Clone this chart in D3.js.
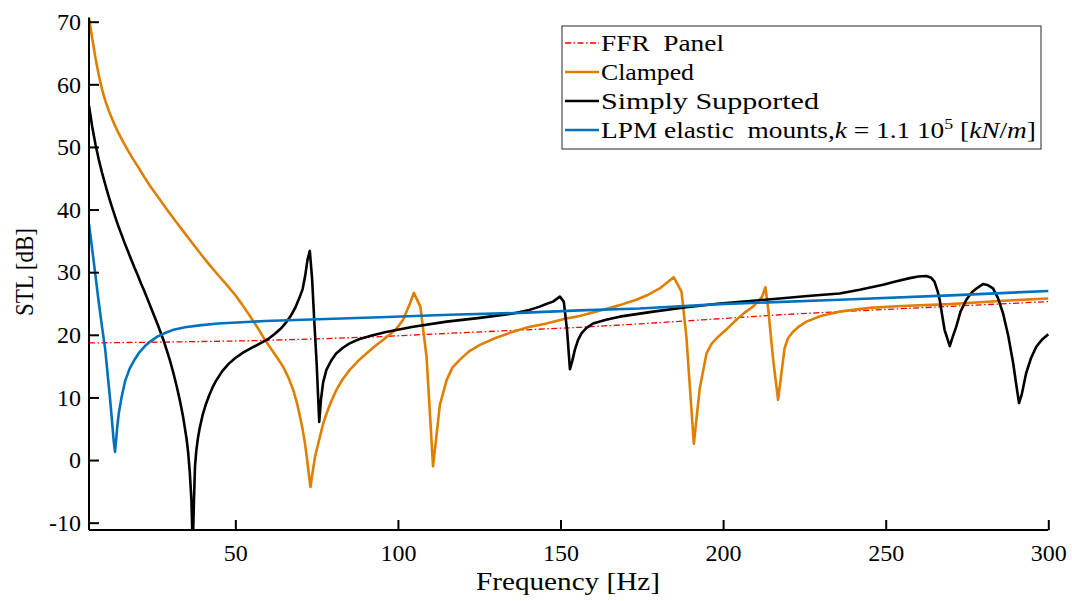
<!DOCTYPE html>
<html>
<head>
<meta charset="utf-8">
<script src="https://cdn.jsdelivr.net/npm/d3@7/dist/d3.min.js"></script>
<style>
  html, body { margin: 0; padding: 0; background: #fff; }
  svg { display: block; }
  text { font-family: "Liberation Serif", "DejaVu Serif", serif; fill: #000; }
</style>
</head>
<body>
<svg id="chart" width="1072" height="601"></svg>
<script>
// ---------- data ----------
const xTicks = [50, 100, 150, 200, 250, 300];
const yTicks = [-10, 0, 10, 20, 30, 40, 50, 60, 70];

const ffrFreq = [5, 30, 54.5, 75, 94.4, 116, 137.5, 156, 174.3, 200, 217.4, 236, 260, 280, 300];
const ffrSTL  = [18.7, 18.85, 19.05, 19.35, 19.7, 20.25, 20.75, 21.2, 21.75, 22.6, 23.2, 23.7, 24.3, 24.8, 25.3];

const clampedFreq = [5, 6, 7, 8, 9, 10, 11, 12, 13, 14, 15.5, 17, 18.5, 20, 22, 24, 26.5, 29.4, 32, 34.5, 37, 39.6, 42, 44.7, 47.3, 49.9,
  52, 54.5, 57, 59.1, 60.8, 62.8, 64.7, 66.3, 67.8, 69, 69.9, 70.7, 71.4, 72.1, 72.7, 73.1,
  73.6, 74.5, 75.3, 76, 77, 78.1, 79.5, 81.1, 83, 85.2, 87.7, 90.4, 93, 95.5, 97.6, 99.6, 101.6, 103.7, 104.9, 106.9, 108.8, 110.8,
  112.9, 115, 116.8, 119, 122, 125.2, 130, 135.4, 140, 145.7, 150.8, 155.9, 163.1, 168, 173.3, 177, 180.5, 184.8, 187.2, 188.7, 191,
  192.8, 194.9, 196.5, 198.5, 201.5, 204.1, 206.5, 209.2, 211, 212, 213, 213.9, 215.4, 216.9, 218.9, 220, 221.5, 223.5, 225.6, 230, 235.8,
  245, 255, 269.7, 285, 300];
const clampedSTL = [70.6, 67.3, 64.2, 61.5, 59.2, 57.4, 55.9, 54.6, 53.4, 52.3, 50.8, 49.4, 48.1, 46.9, 45.2, 43.6, 41.8, 39.7, 37.9, 36.2, 34.5, 32.75, 31.2, 29.55, 28.0, 26.4,
  24.9, 23.0, 21.0, 19.2, 17.9, 16.4, 14.9, 13.2, 11.2, 9.0, 6.9, 4.9, 2.7, 0, -2.65, -4.3,
  -2.5, 0.5, 2.2, 3.7, 5.8, 7.5, 9.4, 11.2, 12.9, 14.4, 15.8, 17.05, 18.2, 19.2, 20.1, 21.0, 22.4, 25.0, 26.7, 24.5, 16.5, -1.0,
  8.8, 12.8, 14.8, 16.0, 17.4, 18.4, 19.5, 20.5, 21.2, 21.8, 22.5, 23.0, 24.0, 24.7, 25.6, 26.4, 27.4, 29.2, 26.9, 19.7, 2.6,
  11.4, 17.05, 18.6, 19.7, 21.1, 22.4, 23.5, 24.5, 25.5, 26.1, 27.6, 24.0, 16.0, 9.6, 17.85, 19.5, 20.5, 21.4, 22.1, 23.0, 23.7,
  24.3, 24.6, 24.9, 25.4, 25.8];

const ssFreq = [5, 6, 7, 8, 9, 10, 11, 12, 13, 14, 15, 16, 17, 18, 19, 20, 21, 22, 23, 24, 25, 26, 27, 28, 29, 30, 31, 32, 33, 34, 35, 35.5,
  36, 36.5, 36.9, 37.3, 37.6, 38, 38.5, 39, 40, 41, 42, 43, 44, 45, 46, 48, 50, 52.5, 55, 57.5, 60, 62, 64, 65.5, 67, 68.5, 69.7, 70.7,
  71.5, 72.2, 72.9, 73.6, 74.3, 75, 75.8, 76.3, 77, 78, 79.5, 81, 83, 85, 88, 92, 96, 104.7, 115, 125.2, 135.4, 140, 143.6, 146, 147.7,
  149.8, 151, 152, 152.9, 153.6, 154.4, 155.4, 156.5, 158, 160, 164, 168.2, 178.5, 188.7, 199, 209.2, 217.4, 226, 235.8, 242, 249.2, 253,
  257.4, 260, 262.5, 264, 265, 266, 266.6, 267.4, 268.1, 269.7, 270.5, 271.7, 273, 274.8, 276.5, 277.9, 279.9, 281.5, 283, 284.5, 286.1,
  287.7, 289.2, 290.3, 291, 291.8, 293.2, 294.7, 296.3, 298.2, 300];
const ssSTL = [56.6, 53.2, 50.4, 48.0, 45.9, 44.0, 42.2, 40.5, 38.9, 37.4, 36.0, 34.6, 33.3, 32.0, 30.7, 29.5, 28.2, 27.0, 25.7, 24.4, 23.1, 21.8, 20.4, 19.0, 17.4, 15.7, 13.8, 11.7, 9.4, 6.7, 3.4, 1.2,
  -2, -6.5, -14, -6, -1, 1.5, 3.5, 5, 7.3, 9.0, 10.4, 11.6, 12.6, 13.4, 14.2, 15.4, 16.3, 17.2, 17.9, 18.6, 19.3, 20.1, 21.0, 21.9, 23.0, 24.4, 25.9, 27.3,
  29.5, 32, 33.4, 29, 22, 15.5, 6.1, 9.5, 12.4, 14.4, 15.9, 17.0, 17.9, 18.6, 19.3, 19.9, 20.4, 21.3, 22.1, 22.7, 23.4, 23.9, 24.5, 25.0, 25.3,
  26.1, 25.3, 20.8, 14.5, 15.8, 17.6, 19.2, 20.25, 21.1, 21.8, 22.4, 22.9, 23.7, 24.4, 25.0, 25.45, 25.8, 26.2, 26.6, 27.2, 28.0, 28.5,
  29.05, 29.3, 29.4, 29.1, 28.5, 26.9, 25.6, 23, 20.8, 18.2, 19.5, 21.3, 23.7, 25.6, 26.8, 27.4, 28.1, 27.9, 27.4, 25.9, 23.4,
  19.8, 15.45, 11.5, 9.1, 10.4, 13.9, 16.3, 18.1, 19.3, 20.1];

const lpmFreq = [5, 6, 7, 7.9, 9, 10, 11, 11.5, 12, 12.6, 13.0, 13.3, 13.7, 14.2, 15, 16.1, 17.5, 19.1, 20.5, 22.2, 24, 26, 28, 31, 34.5, 39,
  44.7, 52, 59.1, 94.4, 116, 137.5, 155.9, 174.3, 199, 235.8, 270, 300];
const lpmSTL = [37.7, 33.6, 29.4, 25.6, 21.3, 17.6, 12.3, 9.6, 6.7, 3.0, 1.3, 3.0, 5.4, 7.6, 10.0, 12.6, 14.6, 16.1, 17.2, 18.2, 19.0, 19.7, 20.2, 20.8, 21.2, 21.5,
  21.8, 22.0, 22.2, 22.8, 23.2, 23.5, 23.9, 24.2, 24.9, 25.6, 26.3, 27.0];

const seriesNames = ["FFR  Panel", "Clamped", "Simply Supported", "LPM elastic  mounts"];
const seriesColors = ["#ff0000", "#df7f00", "#000000", "#0072bd"];
const legendWidths = [123, 93, 218, 435];

// ---------- layout ----------
const svg = d3.select("#chart");
const L = 89, R = 1048.3, T = 17.5, B = 530;
const x = d3.scaleLinear().domain([5, 300]).range([L, R]);
const y = d3.scaleLinear().domain([-11.17, 70.67]).range([B, T]);

svg.append("defs").append("clipPath").attr("id", "clip")
  .append("rect").attr("x", L).attr("y", T - 2).attr("width", R - L + 2).attr("height", B - T + 2);

const line = d3.line().x(d => x(d[0])).y(d => y(d[1]));
const zip = (a, b) => a.map((v, i) => [v, b[i]]);

const plot = svg.append("g").attr("clip-path", "url(#clip)");
plot.append("path").datum(zip(ffrFreq, ffrSTL)).attr("d", line)
  .attr("fill", "none").attr("stroke", seriesColors[0]).attr("stroke-width", 1.3)
  .attr("stroke-dasharray", "6,2.5,1.5,2.5");
plot.append("path").datum(zip(clampedFreq, clampedSTL)).attr("d", line)
  .attr("fill", "none").attr("stroke", seriesColors[1]).attr("stroke-width", 2.6).attr("stroke-linejoin", "round");
plot.append("path").datum(zip(ssFreq, ssSTL)).attr("d", line)
  .attr("fill", "none").attr("stroke", seriesColors[2]).attr("stroke-width", 2.6).attr("stroke-linejoin", "round");
plot.append("path").datum(zip(lpmFreq, lpmSTL)).attr("d", line)
  .attr("fill", "none").attr("stroke", seriesColors[3]).attr("stroke-width", 2.6).attr("stroke-linejoin", "round");

// ---------- axes ----------
const xAxis = d3.axisBottom(x).tickValues(xTicks).tickSizeInner(-10).tickSizeOuter(0).tickPadding(14).tickFormat(d => String(d));
const yAxis = d3.axisLeft(y).tickValues(yTicks).tickSizeInner(-10).tickSizeOuter(0).tickPadding(8).tickFormat(d => String(d));

const gx = svg.append("g").attr("transform", `translate(0,${B})`).call(xAxis);
const gy = svg.append("g").attr("transform", `translate(${L},0)`).call(yAxis);
[gx, gy].forEach(g => {
  g.select(".domain").attr("stroke", "#000").attr("stroke-width", 2);
  g.selectAll(".tick line").attr("stroke", "#000").attr("stroke-width", 2);
  g.selectAll(".tick text").attr("font-family", "Liberation Serif").attr("font-size", 24).attr("fill", "#000");
});
gx.select(".domain").attr("d", `M${L},0H${R}`);
gy.select(".domain").attr("d", `M0,${B}V${T}`);

svg.append("text").attr("x", 568).attr("y", 590).attr("text-anchor", "middle")
  .attr("font-size", 26).attr("textLength", 184).attr("lengthAdjust", "spacingAndGlyphs").text("Frequency [Hz]");
svg.append("text").attr("transform", `translate(33,272) rotate(-90)`).attr("text-anchor", "middle")
  .attr("font-size", 26).attr("textLength", 88).attr("lengthAdjust", "spacingAndGlyphs").text("STL [dB]");

// ---------- legend ----------
const lg = svg.append("g");
lg.append("rect").attr("x", 562).attr("y", 26).attr("width", 479).attr("height", 123)
  .attr("fill", "#fff").attr("stroke", "#262626").attr("stroke-width", 1);
const rowY = [43, 72, 101, 130];
seriesNames.forEach((name, i) => {
  const ls = lg.append("line").attr("x1", 565).attr("x2", 599).attr("y1", rowY[i]).attr("y2", rowY[i])
    .attr("stroke", seriesColors[i]).attr("stroke-width", i === 0 ? 1.3 : 2.6);
  if (i === 0) ls.attr("stroke-dasharray", "6,2.5,1.5,2.5");
  const t = lg.append("text").attr("x", 601).attr("y", rowY[i] + 8).attr("font-size", 23)
    .attr("xml:space", "preserve").style("white-space", "pre")
    .attr("textLength", legendWidths[i]).attr("lengthAdjust", "spacingAndGlyphs");
  t.append("tspan").text(name);
  if (i === 3) {
    t.append("tspan").text(",");
    t.append("tspan").attr("font-style", "italic").text("k");
    t.append("tspan").text(" = 1.1 10");
    t.append("tspan").attr("font-size", 15).attr("dy", -9).text("5");
    t.append("tspan").attr("dy", 9).text(" [");
    t.append("tspan").attr("font-style", "italic").text("kN");
    t.append("tspan").text("/");
    t.append("tspan").attr("font-style", "italic").text("m");
    t.append("tspan").text("]");
  }
});
</script>
</body>
</html>
